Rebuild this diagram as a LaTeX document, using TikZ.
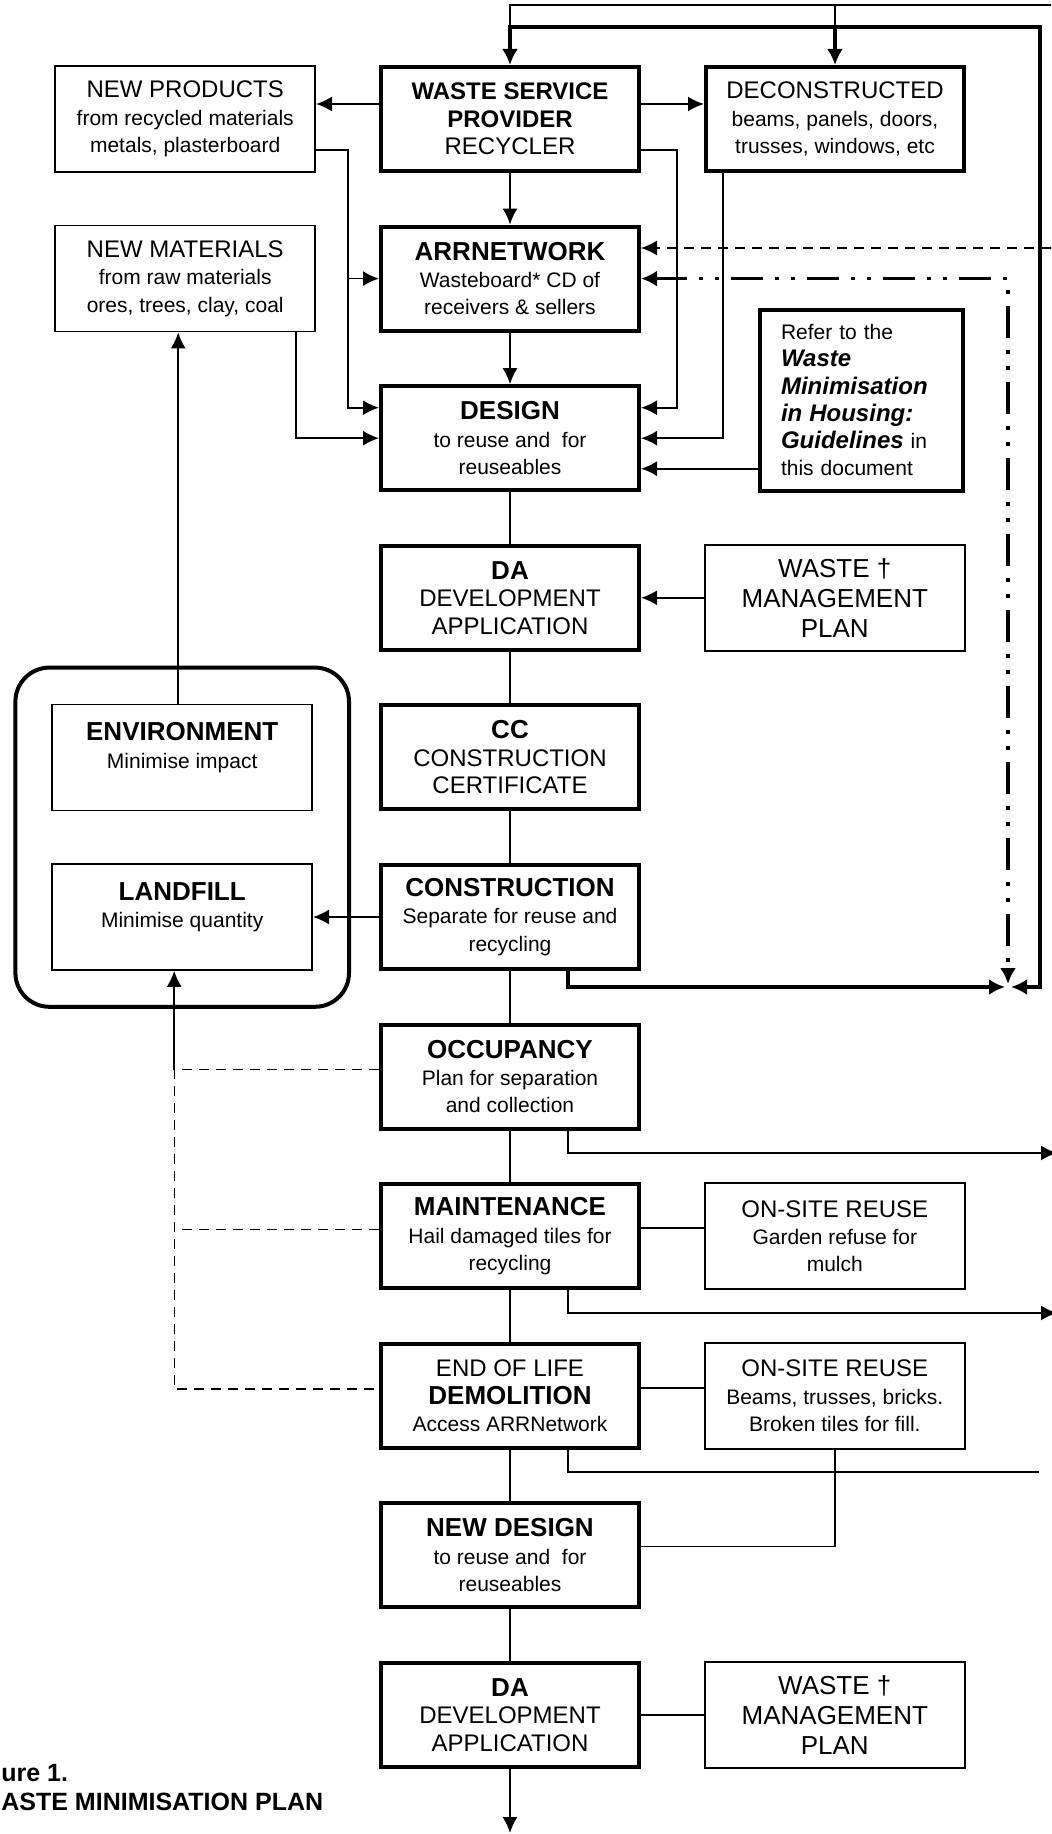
\documentclass[tikz,border=0pt]{standalone}
\usepackage{fontspec}
\setmainfont{Liberation Sans}
\usetikzlibrary{arrows.meta,positioning,fit}

\newcommand{\boxhead}[1]{{\fontsize{13pt}{13.7pt}\selectfont\bfseries #1}}
\newcommand{\boxsub}[1]{{\fontsize{10.5pt}{13.7pt}\selectfont #1}}
\newcommand{\boxkey}[1]{{\fontsize{12pt}{13.65pt}\selectfont\bfseries\itshape #1}}

\begin{document}
\begin{tikzpicture}[
    x=0.5pt, y=-0.5pt,
    node distance=25.8pt and 31.5pt,
    mainbox/.style={draw, line width=2pt, align=center, minimum width=129pt, minimum height=52pt, inner sep=2pt, font=\fontsize{12pt}{13.7pt}\selectfont},
    sidebox/.style={draw, line width=0.8pt, align=center, minimum width=130pt, minimum height=53pt, inner sep=2pt, font=\fontsize{12pt}{13.7pt}\selectfont},
    planbox/.style={sidebox, font=\fontsize{13pt}{15pt}\selectfont},
    notebox/.style={draw, line width=2pt, align=left, text width=80.5pt, inner xsep=10.5pt, minimum height=90.5pt, font=\fontsize{10.5pt}{13.65pt}\selectfont},
    groupbox/.style={draw, line width=2pt, rounded corners=17pt, inner sep=18pt},
    figcap/.style={font=\fontsize{12.5pt}{14pt}\selectfont\bfseries, inner sep=0pt, anchor=base west},
    conn/.style={line width=0.9pt},
    arrow/.style={conn, -{Latex[length=8pt,width=7.5pt]}},
    heavy/.style={line width=1.6pt},
    heavyarrow/.style={heavy, -{Latex[length=8pt,width=8pt]}},
    dashconn/.style={line width=0.7pt, dash pattern=on 5pt off 3.5pt},
    dashdotconn/.style={line width=1.6pt, dash pattern=on 16pt off 6pt on 2pt off 6pt on 2pt off 6pt}
]
    \useasboundingbox (0,0) rectangle (1051,1834);

    % main column
    \node[mainbox] (wsp) at (510,119) {\textbf{WASTE SERVICE}\\\textbf{PROVIDER}\\RECYCLER};
    \node[mainbox, below=of wsp] (arrnet) {\boxhead{ARRNETWORK}\\\boxsub{Wasteboard* CD of}\\\boxsub{receivers \& sellers}};
    \node[mainbox, below=of arrnet] (design) {\boxhead{DESIGN}\\\boxsub{to reuse and~ for}\\\boxsub{reuseables}};
    \node[mainbox, below=of design] (da) {\boxhead{DA}\\DEVELOPMENT\\APPLICATION};
    \node[mainbox, below=of da] (cc) {\boxhead{CC}\\CONSTRUCTION\\CERTIFICATE};
    \node[mainbox, below=of cc] (constr) {\boxhead{CONSTRUCTION}\\\boxsub{Separate for reuse and}\\\boxsub{recycling}};
    \node[mainbox, below=of constr] (occ) {\boxhead{OCCUPANCY}\\\boxsub{Plan for separation}\\\boxsub{and collection}};
    \node[mainbox, below=of occ] (maint) {\boxhead{MAINTENANCE}\\\boxsub{Hail damaged tiles for}\\\boxsub{recycling}};
    \node[mainbox, below=of maint] (demol) {END OF LIFE\\\boxhead{DEMOLITION}\\\boxsub{Access ARRNetwork}};
    \node[mainbox, below=of demol] (newdes) {\boxhead{NEW DESIGN}\\\boxsub{to reuse and~ for}\\\boxsub{reuseables}};
    \node[mainbox, below=of newdes] (da2) {\boxhead{DA}\\DEVELOPMENT\\APPLICATION};

    % side boxes
    \node[sidebox, left=of wsp] (products) {NEW PRODUCTS\\\boxsub{from recycled materials}\\\boxsub{metals, plasterboard}};
    \node[sidebox, left=of arrnet] (materials) {NEW MATERIALS\\\boxsub{from raw materials}\\\boxsub{ores, trees, clay, coal}};
    \node[mainbox, right=of wsp] (decon) {DECONSTRUCTED\\\boxsub{beams, panels, doors,}\\\boxsub{trusses, windows, etc}};
    \node[notebox, right=58.5pt of design, yshift=19pt] (refer) {Refer to the\\\boxkey{Waste}\\\boxkey{Minimisation}\\\boxkey{in Housing:}\\\boxkey{Guidelines} in\\this document};
    \node[planbox, right=of da] (wmp) {WASTE †\\MANAGEMENT\\PLAN};
    \node[sidebox, left=33pt of cc] (env) {\boxhead{ENVIRONMENT}\\\boxsub{Minimise impact}\\[-6pt]\strut};
    \node[sidebox, left=33pt of constr] (landfill) {\boxhead{LANDFILL}\\\boxsub{Minimise quantity}\\[-6pt]\strut};
    \node[groupbox, fit=(env)(landfill)] (impact) {};
    \node[sidebox, right=of maint] (reuse1) {ON-SITE REUSE\\\boxsub{Garden refuse for}\\\boxsub{mulch}};
    \node[sidebox, right=of demol] (reuse2) {ON-SITE REUSE\\\boxsub{Beams, trusses, bricks.}\\\boxsub{Broken tiles for fill.}};
    \node[planbox, right=of da2] (wmp2) {WASTE †\\MANAGEMENT\\PLAN};

    \node[figcap] (figno) at (1,1781) {ure 1.};
    \node[figcap] (figtitle) at (1,1810) {ASTE MINIMISATION PLAN};

    % free ends and bends
    \coordinate (topin) at (1051,5);
    \coordinate (railT) at (1040,27);
    \coordinate (railB) at (1040,987);
    \coordinate (meet) at (1008,987);
    \coordinate (dashin) at (1051,248);
    \coordinate (occout) at (1057,1153);
    \coordinate (maintout) at (1057,1313);
    \coordinate (demolout) at (1039,1472);
    \coordinate (down) at (510,1833);
    \coordinate (pbus) at (348,0);
    \coordinate (rbus) at (677,0);
    \coordinate (dinL) at ([yshift=15.25pt]design.west);
    \coordinate (dinR) at ([yshift=15.25pt]design.east);
    \coordinate (dinN) at ([yshift=-15.25pt]design.east);
    \coordinate (envup) at ([xshift=-2pt]env.north);
    \coordinate (lb) at ([xshift=-4pt]landfill.south);
    \coordinate (occL) at ([yshift=3.5pt]occ.west);
    \coordinate (maintL) at ([yshift=3.5pt]maint.west);
    \coordinate (demolL) at ([yshift=3.5pt]demol.west);

    % loop back to the recycler
    \draw[conn] (topin) -| (railT -| wsp.north);
    \draw[conn] (topin -| decon.north) -- (railT -| decon.north);
    \draw[heavy, {Latex[length=8pt,width=8pt]}-{Latex[length=8pt,width=8pt]}] ([xshift=1.5pt]meet) -- (railB) -- (railT) -| (wsp.north);
    \draw[heavyarrow] (railT -| decon.north) -- (decon.north);
    \draw[heavyarrow] ([xshift=29pt]constr.south) |- ([xshift=-1.5pt]meet);

    \draw[arrow] ([yshift=7.5pt]wsp.west) -- ([yshift=7.5pt]products.east);
    \draw[arrow] ([yshift=7.5pt]wsp.east) -- ([yshift=7.5pt]decon.west);
    \draw[arrow] (wsp) -- (arrnet);
    \draw[arrow] (arrnet) -- (design);

    % into design
    \draw[arrow] ([yshift=-15.5pt]products.east) -| (pbus |- dinL) -- (dinL);
    \draw[arrow] (pbus |- arrnet.west) -- (arrnet.west);
    \draw[arrow] ([xshift=-10pt]materials.south east) |- (design.west);
    \draw[arrow] ([yshift=-15.5pt]wsp.east) -| (rbus |- dinR) -- (dinR);
    \draw[arrow] ([xshift=9.5pt]decon.south west) |- (design.east);
    \draw[arrow] (dinN -| refer.west) -- (dinN);

    % network feeds
    \draw[dashconn, -{Latex[length=8pt,width=7.5pt]}] (dashin) -- (dashin -| arrnet.east);
    \draw[dashdotconn, {Latex[length=8pt,width=8pt]}-{Latex[length=8pt,width=8pt]}] (arrnet.east) -- (arrnet.east -| meet) -- ([yshift=1.5pt]meet);

    % down the column
    \draw[conn] (design) -- (da);
    \draw[conn] (da) -- (cc);
    \draw[conn] (cc) -- (constr);
    \draw[conn] (constr) -- (occ);
    \draw[conn] (occ) -- (maint);
    \draw[conn] (maint) -- (demol);
    \draw[conn] (demol) -- (newdes);
    \draw[conn] (newdes) -- (da2);
    \draw[arrow] (da2) -- (down);

    \draw[arrow] (wmp) -- (da);
    \draw[conn] (wmp2) -- (da2);
    \draw[conn] ([yshift=4pt]maint.east) -- ([yshift=4pt]reuse1.west);
    \draw[conn] ([yshift=4pt]demol.east) -- ([yshift=4pt]reuse2.west);
    \draw[conn] (reuse2.south) |- ([yshift=4.5pt]newdes.east);

    % environment and landfill
    \draw[arrow] (envup) -- (envup |- materials.south);
    \draw[arrow] (constr) -- (landfill);
    \draw[arrow] (lb |- occL) -- (lb);
    \draw[dashconn] (occL) -- (lb |- occL) -- (lb |- demolL) -- (demolL);
    \draw[dashconn] (maintL) -- (lb |- maintL);

    % out to the right
    \draw[arrow] ([xshift=29pt]occ.south) |- (occout);
    \draw[arrow] ([xshift=29pt]maint.south) |- (maintout);
    \draw[conn] ([xshift=29pt]demol.south) |- (demolout);
\end{tikzpicture}
\end{document}
